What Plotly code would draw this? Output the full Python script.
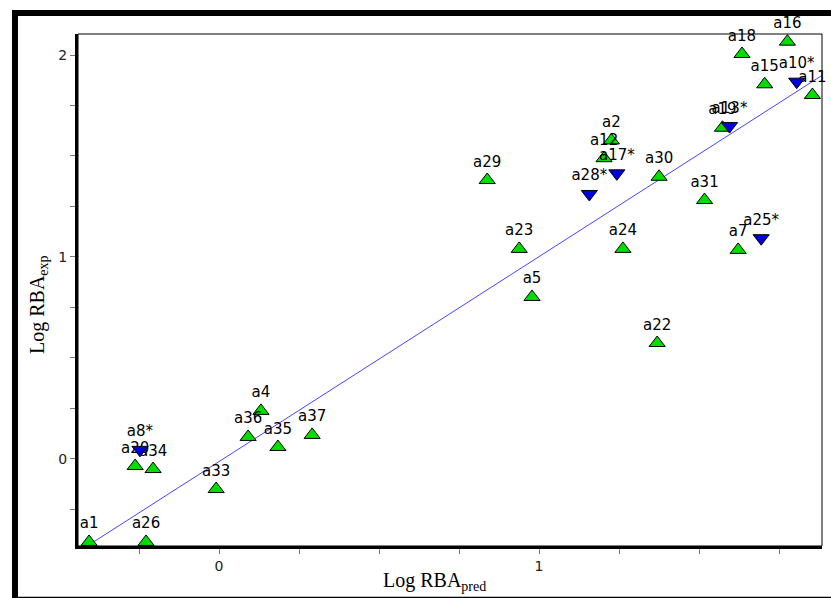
import plotly.graph_objects as go

# Compounds with predicted vs experimental log RBA (training set, up-triangles)
train_names = ["a1", "a26", "a20", "a34", "a33", "a36", "a4", "a35", "a37",
               "a29", "a23", "a5", "a2", "a12", "a30", "a24", "a22", "a31",
               "a7", "a19", "a18", "a15", "a16", "a11"]
train_pred = [-0.406, -0.228, -0.262, -0.206, -0.009, 0.091, 0.131, 0.184, 0.291,
              0.838, 0.938, 0.978, 1.226, 1.203, 1.375, 1.262, 1.369, 1.517,
              1.622, 1.573, 1.634, 1.705, 1.776, 1.854]
train_exp = [-0.411, -0.411, -0.035, -0.050, -0.149, 0.109, 0.238, 0.059, 0.119,
             1.381, 1.040, 0.802, 1.577, 1.489, 1.397, 1.040, 0.574, 1.282,
             1.035, 1.640, 2.005, 1.855, 2.066, 1.802]

# Test set compounds (down-triangles)
test_names = ["a8*", "a28*", "a17*", "a13*", "a25*", "a10*"]
test_pred = [-0.247, 1.157, 1.243, 1.595, 1.694, 1.805]
test_exp = [0.045, 1.312, 1.414, 1.648, 1.093, 1.868]

# Fitted regression line end points
fit_x = [-0.397, 1.881]
fit_y = [-0.416, 1.896]

x_ticks = [-0.25, 0, 0.25, 0.5, 0.75, 1, 1.25, 1.5, 1.75]
x_ticktext = ["", "0", "", "", "", "1", "", "", ""]
y_ticks = [-0.25, 0, 0.25, 0.5, 0.75, 1, 1.25, 1.5, 1.75, 2]
y_ticktext = ["", "0", "", "", "", "1", "", "", "", "2"]

label_font = dict(family="DejaVu Sans", size=15, color="black")

fig = go.Figure()
fig.add_trace(go.Scatter(
    x=fit_x, y=fit_y, mode="lines",
    line=dict(color="rgb(70,70,255)", width=1),
    hoverinfo="skip", showlegend=False,
))
fig.add_trace(go.Scatter(
    x=train_pred, y=train_exp, mode="markers+text",
    text=train_names, textposition="top center", textfont=label_font,
    marker=dict(symbol="triangle-up", size=14, color="#00dd00",
                line=dict(color="black", width=1)),
    cliponaxis=False, showlegend=False,
))
fig.add_trace(go.Scatter(
    x=test_pred, y=test_exp, mode="markers+text",
    text=test_names, textposition="top center", textfont=label_font,
    marker=dict(symbol="triangle-down", size=14, color="#0000dd",
                line=dict(color="black", width=1)),
    cliponaxis=False, showlegend=False,
))

axis_common = dict(
    showgrid=False, zeroline=False, showline=True, linecolor="black", linewidth=3,
    ticks="outside", ticklen=5, tickwidth=1, tickcolor="#777777",
    tickfont=dict(family="DejaVu Sans", size=14, color="#222222"),
)

fig.update_layout(
    width=831, height=598,
    margin=dict(l=78, r=9, t=34, b=52),
    paper_bgcolor="white", plot_bgcolor="white",
    xaxis=dict(range=[-0.4406, 1.884], tickvals=x_ticks, ticktext=x_ticktext,
               **axis_common),
    yaxis=dict(range=[-0.431, 2.104], tickvals=y_ticks, ticktext=y_ticktext,
               **axis_common),
    shapes=[
        # thin top/right border of the plotting box
        dict(type="rect", xref="paper", yref="paper", x0=0, x1=1, y0=0, y1=1,
             line=dict(color="black", width=1)),
        # heavy outer frame
        dict(type="rect", xref="paper", yref="paper",
             x0=-0.0847, x1=1.019, y0=-0.105, y1=1.041,
             line=dict(color="black", width=6)),
    ],
    annotations=[
        dict(text="Log RBA<sub>pred</sub>", xref="paper", yref="paper",
             x=(434 - 78) / 744, y=(546 - 581) / 512, showarrow=False,
             xanchor="center", yanchor="middle",
             font=dict(family="Liberation Serif", size=20, color="black")),
        dict(text="Log RBA<sub>exp</sub>", xref="paper", yref="paper",
             x=(38 - 78) / 744, y=(546 - 305) / 512, showarrow=False,
             textangle=-90, xanchor="center", yanchor="middle",
             font=dict(family="Liberation Serif", size=20, color="black")),
    ],
)

fig.write_html("out.html")
